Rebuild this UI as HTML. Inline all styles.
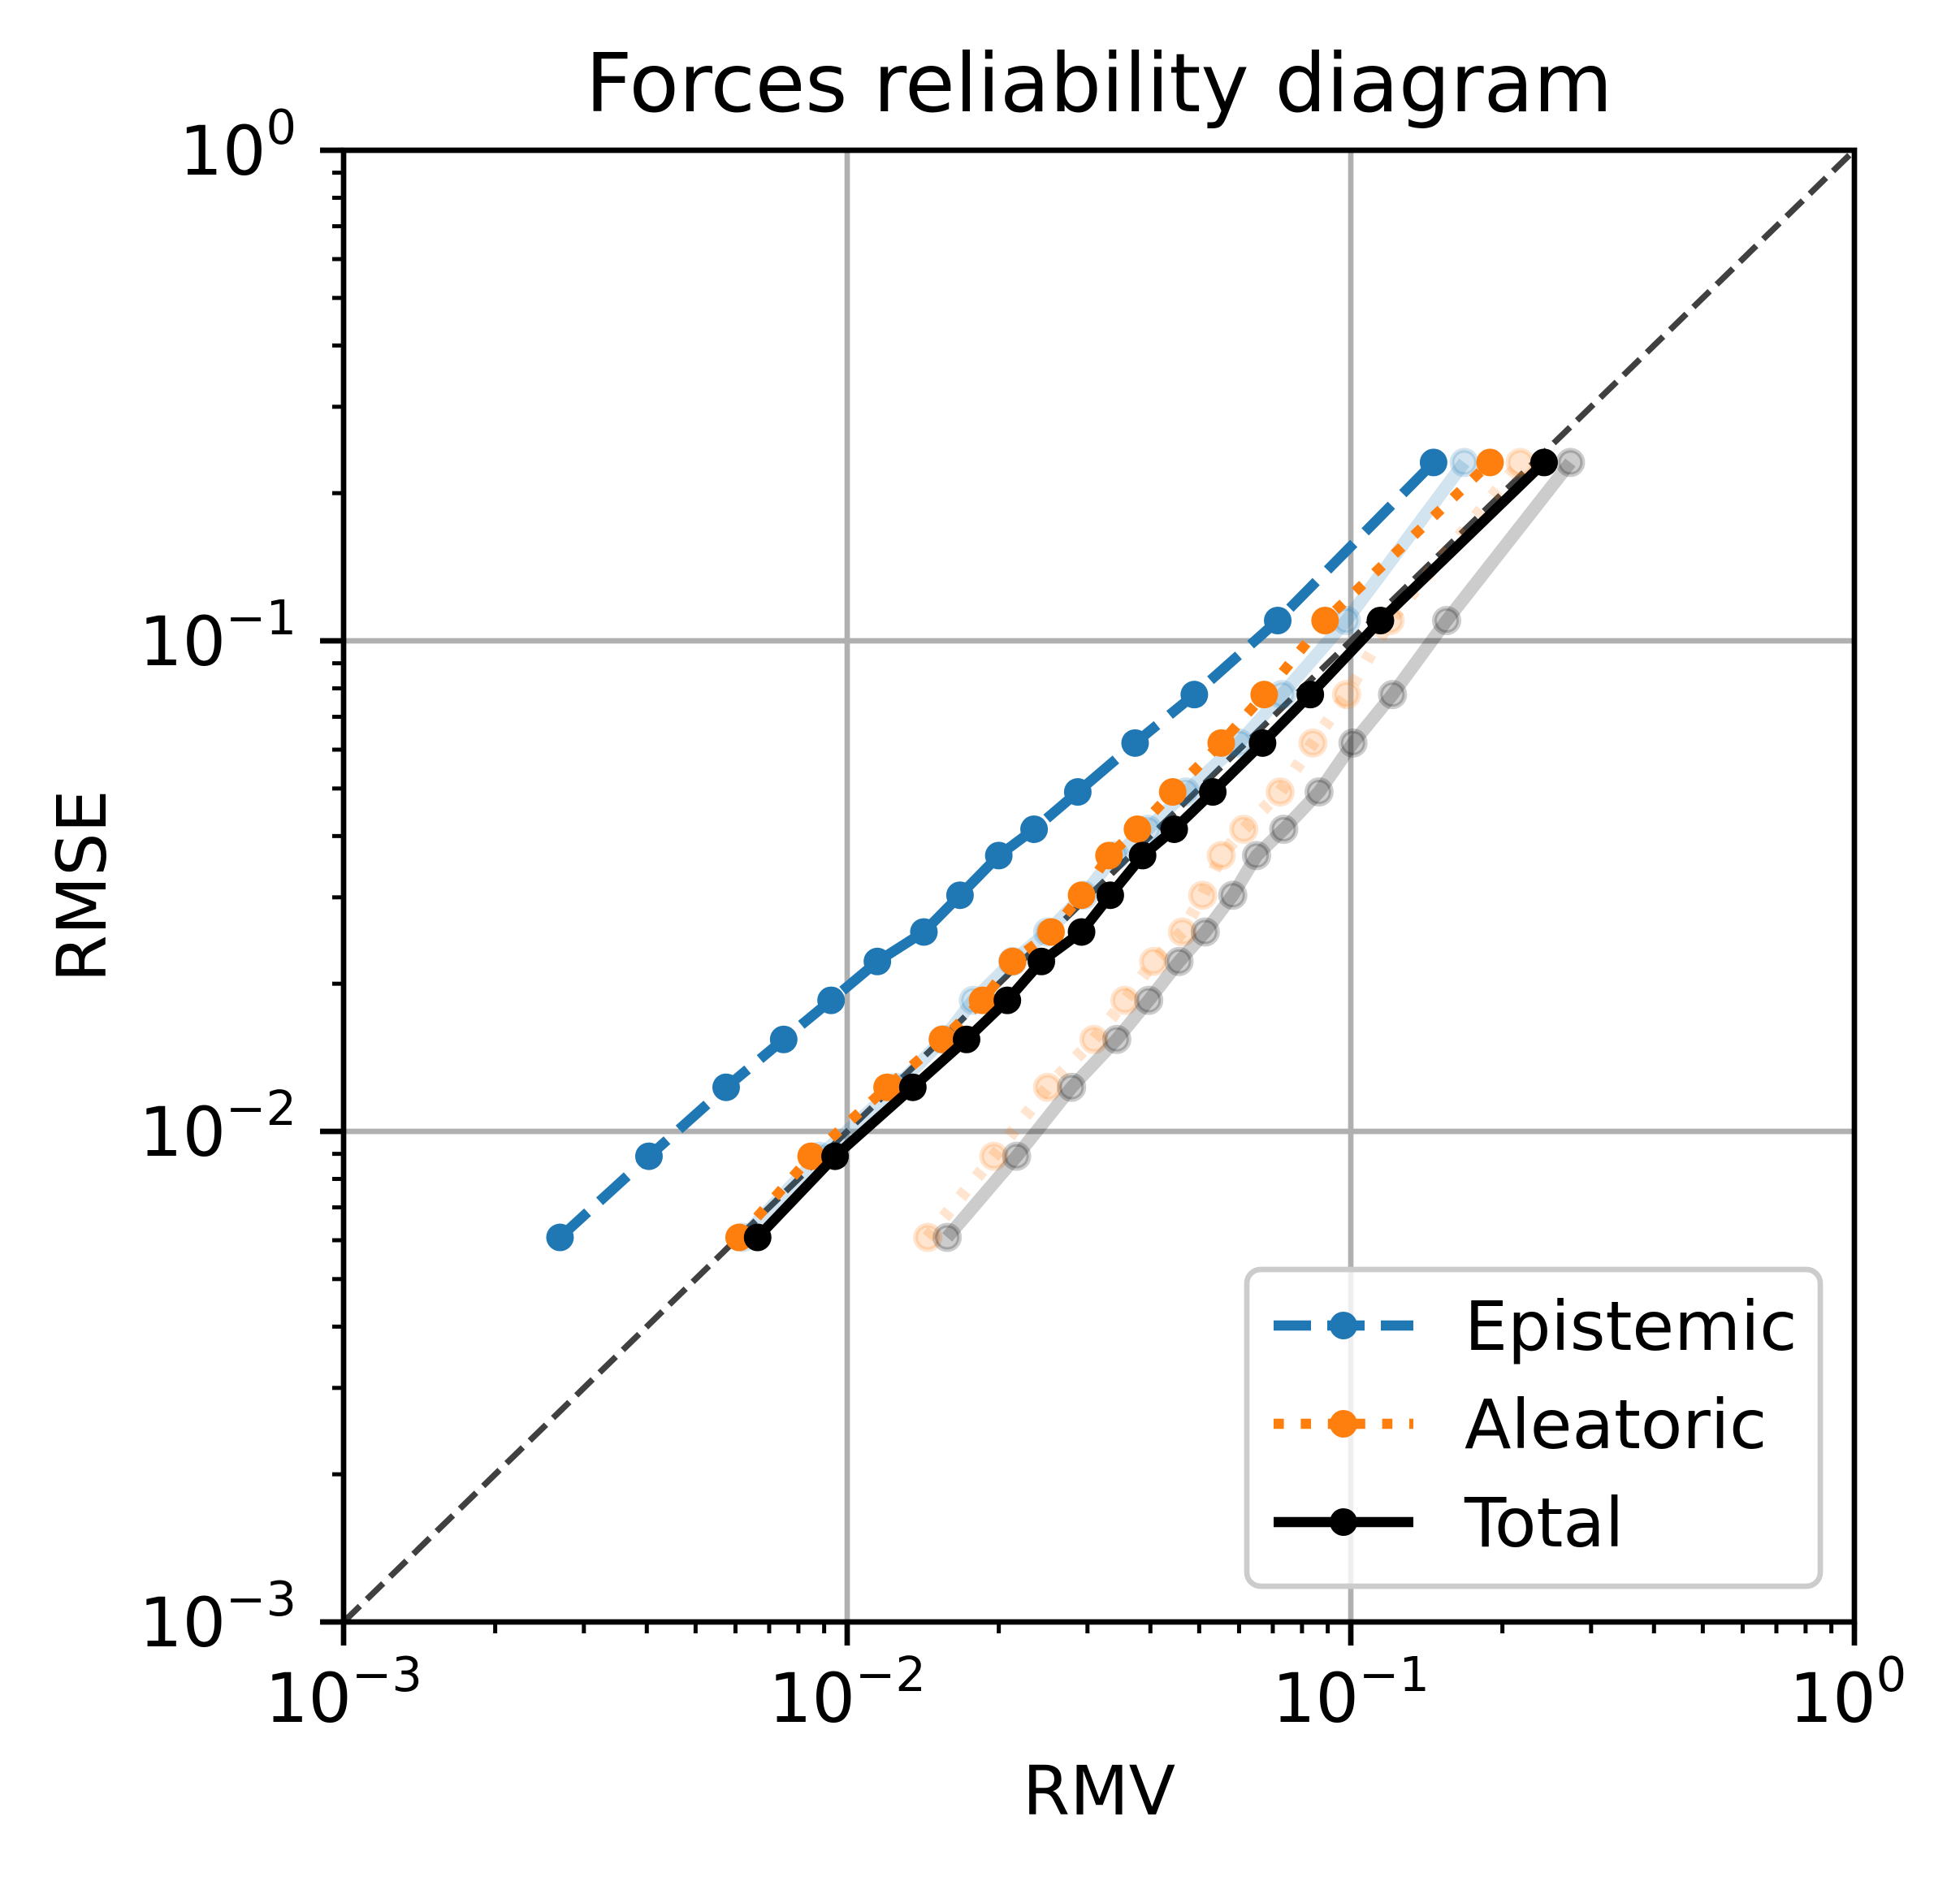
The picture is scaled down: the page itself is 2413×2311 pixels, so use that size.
<!DOCTYPE html>
<html><head><meta charset="utf-8"><style>html,body{margin:0;padding:0;background:#fff}svg{display:block}text{font-family:"DejaVu Sans","Liberation Sans",sans-serif;fill:#000}</style></head>
<body>
<svg id="chart" width="2413" height="2311" xmlns="http://www.w3.org/2000/svg">
<rect width="2413" height="2311" fill="#fff"/>
<g id="grid"></g>
<g id="series"></g>
<g id="axes"></g>
<text x="1353" y="137" font-size="100" text-anchor="middle">Forces reliability diagram</text>
<text x="1353" y="2234" font-size="84" text-anchor="middle">RMV</text>
<text x="0" y="0" font-size="84" text-anchor="middle" transform="translate(130,1091) rotate(-90)">RMSE</text>
<g id="legend"></g>
</svg>
<script>
const rmse = [0.00608,0.0089,0.0123,0.0154,0.0185,0.0222,0.0255,0.0303,0.0365,0.0413,0.0492,0.0619,0.0777,0.110,0.231];
const rmvEpistemic = [0.00269,0.00404,0.00575,0.00748,0.00929,0.01148,0.0142,0.01675,0.0200,0.0235,0.0287,0.0373,0.0489,0.0716,0.146];
const rmvAleatoric = [0.0061,0.00848,0.0120,0.01546,0.01857,0.0213,0.0254,0.0292,0.0331,0.0377,0.0443,0.0553,0.0673,0.0889,0.189];
const rmvTotal = [0.00664,0.00946,0.0135,0.01726,0.0208,0.0243,0.0292,0.0333,0.0386,0.0446,0.0532,0.0668,0.0831,0.1145,0.242];
const rmvEpistemicRaw = [0.0062,0.0088,0.0125,0.0155,0.0178,0.0213,0.025,0.0295,0.034,0.0395,0.047,0.06,0.073,0.098,0.168];
const rmvAleatoricRaw = [0.01445,0.01955,0.025,0.0309,0.0356,0.0406,0.0463,0.0508,0.0553,0.0613,0.0724,0.0841,0.0981,0.1197,0.217];
const rmvTotalRaw = [0.0158,0.0217,0.0279,0.0343,0.0397,0.0456,0.0514,0.0583,0.065,0.0736,0.0865,0.101,0.121,0.155,0.273];
const decades = [-3,-2,-1,0];
const tickExps = ["\u22123","\u22122","\u22121","0"];

const NS="http://www.w3.org/2000/svg";
const L=423,R=2283,T=185,B=1997;
function X(v){return L+(Math.log10(v)+3)*(R-L)/3;}
function Y(v){return B-(Math.log10(v)+3)*(B-T)/3;}
function mk(tag,attrs,parent){const e=document.createElementNS(NS,tag);for(const k in attrs)e.setAttribute(k,attrs[k]);parent.appendChild(e);return e;}
const grid=document.getElementById('grid'),series=document.getElementById('series'),axes=document.getElementById('axes'),legend=document.getElementById('legend');

decades.forEach(d=>{
  const v=Math.pow(10,d);
  if(d>-3&&d<0){
    const gx=mk('line',{x1:X(v),x2:X(v),y1:T,y2:B,stroke:'#b0b0b0','stroke-width':6.7},grid);
    
    
    const gy=mk('line',{x1:L,x2:R,y1:Y(v),y2:Y(v),stroke:'#b0b0b0','stroke-width':6.7},grid);
    
    
  }
});
const diag=mk('line',{x1:X(0.001),y1:Y(0.001),x2:X(1),y2:Y(1),stroke:'#404040','stroke-width':7.5,'stroke-dasharray':'28,12'},grid);



function drawSeries(xs,name,color,lw,dash,opacity,r,faint){
  const g=mk('g',{},series);
  
  
  const pts=xs.map((x,i)=>X(x).toFixed(1)+','+Y(rmse[i]).toFixed(1)).join(' ');
  const pl=mk('polyline',{points:pts,fill:'none',stroke:color,'stroke-width':lw,'stroke-opacity':opacity,'stroke-linejoin':'round'},g);
  if(dash)pl.setAttribute('stroke-dasharray',dash);
  
  
  xs.forEach((x,i)=>{
    const c=mk('circle',{cx:X(x),cy:Y(rmse[i]),r:r,fill:color,'fill-opacity':faint?0.2:1,stroke:color,'stroke-opacity':faint?0.2:1,'stroke-width':faint?6:0},g);
    
    
  });
}
drawSeries(rmvEpistemicRaw,'epistemic-uncalibrated','#1f77b4',16,null,0.2,15,true);
drawSeries(rmvAleatoricRaw,'aleatoric-uncalibrated','#ff7f0e',16,'10,22',0.2,15,true);
drawSeries(rmvTotalRaw,'total-uncalibrated','#000000',16,null,0.2,15,true);
drawSeries(rmvEpistemic,'epistemic-series','#1f77b4',12.6,'46,20',1,17,false);
drawSeries(rmvAleatoric,'aleatoric-series','#ff7f0e',12.6,'12.6,20.8',1,17,false);
drawSeries(rmvTotal,'total-series','#000000',12.6,null,1,17,false);

const sp=mk('rect',{x:L,y:T,width:R-L,height:B-T,fill:'none',stroke:'#000','stroke-width':6.7},axes);


decades.forEach((d,i)=>{
  const v=Math.pow(10,d);
  const tx=mk('line',{x1:X(v),x2:X(v),y1:B,y2:B+29,stroke:'#000','stroke-width':6.7},axes);
  
  
  const ty=mk('line',{x1:L-29,x2:L,y1:Y(v),y2:Y(v),stroke:'#000','stroke-width':6.7},axes);
  
  
  const lx=mk('text',{x:X(v)+ (i==3?-8:0),y:2120,'font-size':84,'text-anchor':'middle'},axes);
  
  
  lx.innerHTML='10<tspan font-size="59" dy="-38">'+tickExps[i]+'</tspan>';
  const ly=mk('text',{x:365,y:Y(v)+30,'font-size':84,'text-anchor':'end'},axes);
  
  
  ly.innerHTML='10<tspan font-size="59" dy="-38">'+tickExps[i]+'</tspan>';
  if(d<0){
    for(let m=2;m<=9;m++){
      const mv=m*v;
      const mx=mk('line',{x1:X(mv),x2:X(mv),y1:B,y2:B+14,stroke:'#000','stroke-width':5},axes);
      
      
      const my=mk('line',{x1:L-14,x2:L,y1:Y(mv),y2:Y(mv),stroke:'#000','stroke-width':5},axes);
      
      
    }
  }
});

const fr=mk('rect',{x:1535,y:1563,width:706,height:390,rx:17,fill:'#fff','fill-opacity':0.8,stroke:'#cccccc','stroke-width':6.7},legend);


const entries=[['Epistemic','#1f77b4','46,20',1632],['Aleatoric','#ff7f0e','12.6,20.8',1753],['Total','#000',null,1874]];
entries.forEach(e=>{
  const g=mk('g',{},legend);
  
  
  const ln=mk('line',{x1:1568,x2:1740,y1:e[3],y2:e[3],stroke:e[1],'stroke-width':12.6},g);
  if(e[2])ln.setAttribute('stroke-dasharray',e[2]);
  
  
  const c=mk('circle',{cx:1654,cy:e[3],r:17,fill:e[1]},g);
  
  
  const t=mk('text',{x:1803,y:e[3]+30,'font-size':84},g);
  t.textContent=e[0];
  
  
});
</script>
</body></html>
